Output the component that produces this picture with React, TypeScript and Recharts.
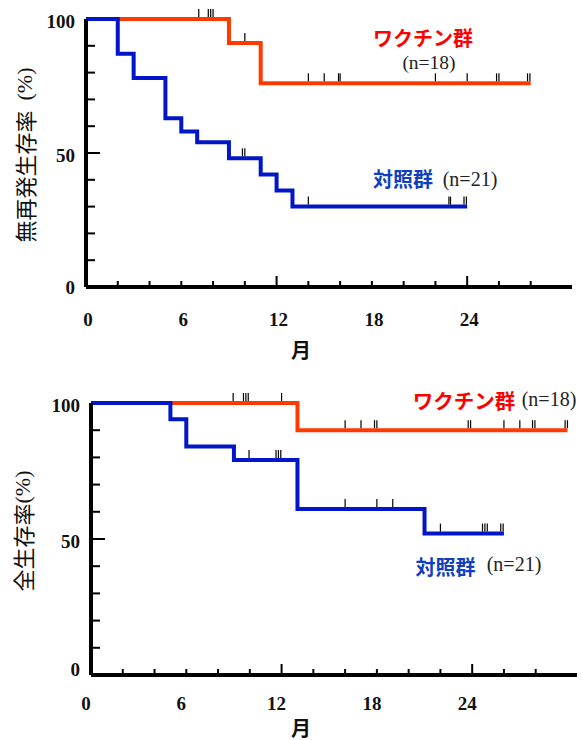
import React from 'react';
import { ComposedChart, Line, Scatter, XAxis, YAxis } from 'recharts';

// ---- ticks ----
const monthTicks = [0, 2, 4, 6, 8, 10, 12, 14, 16, 18, 20, 22, 24, 26, 28];
const monthLabels = [0, 6, 12, 18, 24];
const monthMajor = [12, 24];
const pctTicks = [0, 10, 20, 30, 40, 50, 60, 70, 80, 90, 100];
const pctLabels = [0, 50, 100];
const monthMax = 30.6;

// ---- 無再発生存率 (RFS) ----
const rfsVaccineTimes = [0, 9, 11, 28];
const rfsVaccineSurv = [100, 91, 76, 76];
const rfsVaccineCensor = [7.1, 7.7, 7.85, 8.0, 10.0, 14.0, 15.0, 15.9, 16.0, 22.0, 24.0, 25.85, 26.0, 27.8, 27.95];

const rfsControlTimes = [0, 2, 3, 5, 6, 7, 9, 11, 12, 13, 24];
const rfsControlSurv = [100, 87, 78, 63, 58, 54, 48, 42, 36, 30, 30];
const rfsControlCensor = [9.85, 10.0, 14.0, 22.85, 22.95, 23.8, 23.95];

// ---- 全生存率 (OS) ----
const osVaccineTimes = [0, 13, 30];
const osVaccineSurv = [100, 90, 90];
const osVaccineCensor = [8.95, 9.6, 9.75, 9.9, 12.0, 16.0, 17.0, 17.85, 18.0, 23.75, 23.9, 26.0, 27.0, 27.8, 27.95, 29.85, 30.0];

const osControlTimes = [0, 5, 6, 9, 13, 21, 26];
const osControlSurv = [100, 94, 84, 79, 61, 52, 52];
const osControlCensor = [9.95, 11.65, 11.8, 11.95, 16.0, 18.0, 19.0, 22.0, 24.65, 24.8, 24.95, 25.8, 25.95];

const RED = '#ff3a00';
const BLUE = '#0016c8';
const SERIF = '"Liberation Serif", "Times New Roman", Times, serif';
const CJK = '"Noto Sans CJK JP", "Noto Sans", sans-serif';

type Pt = { t: number; s: number };

function toCurve(times: number[], surv: number[]): Pt[] {
  return times.map((t, i) => ({ t, s: surv[i] }));
}

function censorPts(cens: number[], times: number[], surv: number[]): Pt[] {
  return cens.map((c) => {
    let v = surv[0];
    for (let i = 0; i < times.length; i++) {
      if (times[i] <= c) v = surv[i];
    }
    return { t: c, s: v };
  });
}

const CensorMark = (props: any) => {
  const { cx, cy } = props;
  if (cx == null || cy == null) return null;
  return <line x1={cx} x2={cx} y1={cy - 10} y2={cy - 2} stroke="#000" strokeWidth={1.2} />;
};

type Series = { curve: Pt[]; censor: Pt[]; color: string };

type ChartProps = {
  top: number;
  axisX: number;
  axisY: number;
  marginTop: number;
  marginRight: number;
  marginBottom: number;
  zeroDy: number;
  series: Series[];
};

function KMChart({ top, axisX, axisY, marginTop, marginRight, marginBottom, zeroDy, series }: ChartProps) {
  const XTick = (p: any) => {
    const { x, payload } = p;
    const v = Number(payload.value);
    const len = monthMajor.indexOf(v) >= 0 ? 11 : 6;
    if (!(v > 0)) return <g />;
    return <line x1={x} x2={x} y1={axisY} y2={axisY - len} stroke="#000" strokeWidth={2} />;
  };

  const YTick = (p: any) => {
    const { y, payload } = p;
    const v = Number(payload.value);
    const len = v === 50 ? 14 : 9;
    return (
      <g>
        {v > 0 && v < 100 && <line x1={axisX} x2={axisX + len} y1={y} y2={y} stroke="#000" strokeWidth={2} />}
        {pctLabels.indexOf(v) >= 0 && (
          <text
            x={axisX - 11}
            y={y + (v === 0 ? zeroDy : 2)}
            textAnchor="end"
            dominantBaseline="central"
            fontFamily={SERIF}
            fontWeight={700}
            fontSize={19}
            fill="#111"
          >
            {String(v)}
          </text>
        )}
      </g>
    );
  };

  return (
    <div style={{ position: 'absolute', left: 0, top, width: 582, height: 370 }}>
      <ComposedChart
        width={582}
        height={370}
        margin={{ top: marginTop, right: marginRight, bottom: marginBottom, left: 0 }}
      >
        <XAxis
          type="number"
          dataKey="t"
          domain={[0, monthMax]}
          ticks={monthTicks}
          interval={0}
          minTickGap={0}
          height={60}
          tickLine={false}
          axisLine={{ stroke: '#000', strokeWidth: 4 }}
          tick={XTick}
        />
        <YAxis
          type="number"
          dataKey="s"
          domain={[0, 100]}
          ticks={pctTicks}
          interval={0}
          width={axisX}
          tickLine={false}
          axisLine={{ stroke: '#000', strokeWidth: 4 }}
          tick={YTick}
        />
        {series.map((s, i) => (
          <Line
            key={'l' + i}
            data={s.curve}
            dataKey="s"
            type="stepAfter"
            stroke={s.color}
            strokeWidth={4}
            dot={false}
            activeDot={false}
            isAnimationActive={false}
          />
        ))}
        {series.map((s, i) => (
          <Scatter
            key={'c' + i}
            data={s.censor}
            dataKey="s"
            shape={CensorMark}
            isAnimationActive={false}
          />
        ))}
      </ComposedChart>
    </div>
  );
}

// month labels drawn in the top overlay, placed on the same axis span as the chart
function MonthLabels({ left, right, y, dx }: { left: number; right: number; y: number; dx: number }) {
  return (
    <g>
      {monthLabels.map((v) => (
        <text
          key={'m' + v}
          x={left + (v / monthMax) * (right - left) + dx}
          y={y}
          textAnchor="middle"
          dominantBaseline="central"
          fontFamily={SERIF}
          fontWeight={700}
          fontSize={19}
          fill="#111"
        >
          {String(v)}
        </text>
      ))}
    </g>
  );
}

export default function App() {
  const rfsSeries: Series[] = [
    {
      curve: toCurve(rfsVaccineTimes, rfsVaccineSurv),
      censor: censorPts(rfsVaccineCensor, rfsVaccineTimes, rfsVaccineSurv),
      color: RED,
    },
    {
      curve: toCurve(rfsControlTimes, rfsControlSurv),
      censor: censorPts(rfsControlCensor, rfsControlTimes, rfsControlSurv),
      color: BLUE,
    },
  ];
  const osSeries: Series[] = [
    {
      curve: toCurve(osVaccineTimes, osVaccineSurv),
      censor: censorPts(osVaccineCensor, osVaccineTimes, osVaccineSurv),
      color: RED,
    },
    {
      curve: toCurve(osControlTimes, osControlSurv),
      censor: censorPts(osControlCensor, osControlTimes, osControlSurv),
      color: BLUE,
    },
  ];

  return (
    <div style={{ position: 'absolute', left: 0, top: 0, width: 582, height: 740, background: '#fff', overflow: 'hidden' }}>
      <KMChart
        top={0}
        axisX={86}
        axisY={287}
        marginTop={19}
        marginRight={10}
        marginBottom={23}
        zeroDy={0}
        series={rfsSeries}
      />
      <KMChart
        top={370}
        axisX={91}
        axisY={305}
        marginTop={33}
        marginRight={5}
        marginBottom={5}
        zeroDy={-6}
        series={osSeries}
      />
      <svg width={582} height={740} style={{ position: 'absolute', left: 0, top: 0, pointerEvents: 'none', zIndex: 10 }}>
        <MonthLabels left={86} right={572} y={319} dx={2} />
        <MonthLabels left={91} right={577} y={703} dx={-5} />

        {/* axis titles */}
        <text
          transform="translate(24,155) rotate(-90)"
          textAnchor="middle"
          dominantBaseline="central"
          fontFamily={CJK}
          fontSize={22}
          fill="#111"
        >
          無再発生存率<tspan dx={10} fontFamily={SERIF}>(%)</tspan>
        </text>
        <text
          transform="translate(22,531) rotate(-90)"
          textAnchor="middle"
          dominantBaseline="central"
          fontFamily={CJK}
          fontSize={22}
          fill="#111"
        >
          全生存率<tspan fontFamily={SERIF}>(%)</tspan>
        </text>
        <text x={301} y={349} textAnchor="middle" dominantBaseline="central" fontFamily={CJK} fontWeight={700} fontSize={20} fill="#111">月</text>
        <text x={301} y={727} textAnchor="middle" dominantBaseline="central" fontFamily={CJK} fontWeight={700} fontSize={20} fill="#111">月</text>

        {/* group labels: top */}
        <text x={423} y={37} textAnchor="middle" dominantBaseline="central" fontFamily={CJK} fontWeight={700} fontSize={20} fill="#ff0000">ワクチン群</text>
        <text x={429} y={62} textAnchor="middle" dominantBaseline="central" fontFamily={SERIF} fontSize={19.5} fill="#222">(n=18)</text>
        <text x={403} y={178} textAnchor="middle" dominantBaseline="central" fontFamily={CJK} fontWeight={700} fontSize={20} fill="#1040c0">対照群</text>
        <text x={470} y={179} textAnchor="middle" dominantBaseline="central" fontFamily={SERIF} fontSize={20} fill="#222">(n=21)</text>

        {/* group labels: bottom */}
        <text x={464} y={400} textAnchor="middle" dominantBaseline="central" fontFamily={CJK} fontWeight={700} fontSize={20.5} fill="#ff0000">ワクチン群</text>
        <text x={549} y={399} textAnchor="middle" dominantBaseline="central" fontFamily={SERIF} fontSize={20} fill="#222">(n=18)</text>
        <text x={445.5} y={566} textAnchor="middle" dominantBaseline="central" fontFamily={CJK} fontWeight={700} fontSize={20} fill="#1040c0">対照群</text>
        <text x={514} y={564} textAnchor="middle" dominantBaseline="central" fontFamily={SERIF} fontSize={20} fill="#222">(n=21)</text>
      </svg>
    </div>
  );
}
